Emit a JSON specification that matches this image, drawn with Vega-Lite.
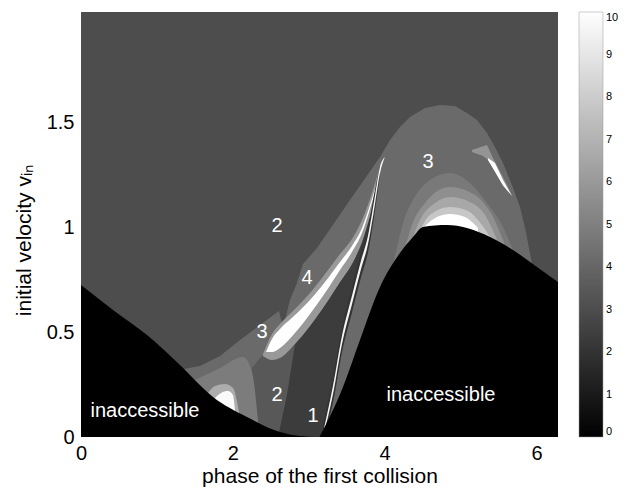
{
  "$schema": "https://vega.github.io/schema/vega-lite/v6.json",
  "autosize": {"type": "none"},
  "padding": {"left": 81, "top": 12, "right": 73, "bottom": 54},
  "width": 477,
  "height": 425,
  "background": "white",
  "config": {"view": {"stroke": null}, "font": "Liberation Sans", "axis": {"labelColor": "black", "titleColor": "black", "titleFontWeight": "normal"}},
  "datasets": {
    "bg": [{"x": 0, "x2": 6.2832, "y": 0, "y2": 2.03, "v": 3.0}],
    "L": [
      {"x": 1.3567, "y": 0.3248, "v": 4.15}, {"x": 1.5674, "y": 0.3391, "v": 4.15}, {"x": 1.8309, "y": 0.3869, "v": 4.15},
      {"x": 2.0943, "y": 0.4633, "v": 4.15}, {"x": 2.3577, "y": 0.535, "v": 4.15}, {"x": 2.608, "y": 0.6018, "v": 4.15},
      {"x": 2.6607, "y": 0.5206, "v": 4.15}, {"x": 2.7529, "y": 0.6544, "v": 4.15}, {"x": 2.8451, "y": 0.7356, "v": 4.15},
      {"x": 2.9241, "y": 0.8263, "v": 4.15}, {"x": 3.1085, "y": 0.9027, "v": 4.15}, {"x": 3.5432, "y": 1.132, "v": 4.15},
      {"x": 3.9384, "y": 1.3374, "v": 4.15}, {"x": 4.0701, "y": 1.4186, "v": 4.15}, {"x": 4.2018, "y": 1.4807, "v": 4.15},
      {"x": 4.3335, "y": 1.5285, "v": 4.15}, {"x": 4.5311, "y": 1.5714, "v": 4.15}, {"x": 4.7287, "y": 1.5858, "v": 4.15},
      {"x": 4.9262, "y": 1.581, "v": 4.15}, {"x": 5.0843, "y": 1.5476, "v": 4.15}, {"x": 5.216, "y": 1.5141, "v": 4.15},
      {"x": 5.3477, "y": 1.452, "v": 4.15}, {"x": 5.4531, "y": 1.3852, "v": 4.15}, {"x": 5.5585, "y": 1.3087, "v": 4.15},
      {"x": 5.677, "y": 1.2036, "v": 4.15}, {"x": 5.7824, "y": 1.0986, "v": 4.15}, {"x": 5.8615, "y": 0.9792, "v": 4.15},
      {"x": 5.9405, "y": 0.8263, "v": 4.15}
    ],
    "r2": [
      {"x": 2.147, "y": 0.1003, "v": 3.45}, {"x": 2.1997, "y": 0.2484, "v": 3.45}, {"x": 2.2524, "y": 0.3296, "v": 3.45},
      {"x": 2.3577, "y": 0.3773, "v": 3.45}, {"x": 2.4368, "y": 0.406, "v": 3.45}, {"x": 2.6212, "y": 0.4394, "v": 3.45},
      {"x": 2.8187, "y": 0.4729, "v": 3.45}, {"x": 2.9505, "y": 0.4872, "v": 3.45}
    ],
    "band": [
      {"x": 1.5016, "y": 0.2723, "v": 4.85}, {"x": 1.8309, "y": 0.3296, "v": 4.85}, {"x": 2.1338, "y": 0.3821, "v": 4.85},
      {"x": 2.2524, "y": 0.3105, "v": 4.85}, {"x": 2.3314, "y": 0.0812, "v": 4.85}
    ],
    "hot1": [
      {"x": 1.6728, "y": 0.2102, "v": 6.8}, {"x": 1.765, "y": 0.2436, "v": 6.8}, {"x": 1.8967, "y": 0.2532, "v": 6.8},
      {"x": 2.0021, "y": 0.234, "v": 6.8}, {"x": 2.0811, "y": 0.1194, "v": 6.8}
    ],
    "hot2": [
      {"x": 1.765, "y": 0.1863, "v": 9.8}, {"x": 1.8441, "y": 0.2102, "v": 9.8}, {"x": 1.9363, "y": 0.2197, "v": 9.8},
      {"x": 2.0021, "y": 0.2006, "v": 9.8}, {"x": 2.0284, "y": 0.129, "v": 9.8}
    ],
    "a1": [
      {"x": 4.0964, "y": 0.8072, "v": 4.75}, {"x": 4.1623, "y": 0.9075, "v": 4.75}, {"x": 4.2413, "y": 1.0222, "v": 4.75},
      {"x": 4.373, "y": 1.132, "v": 4.75}, {"x": 4.597, "y": 1.2275, "v": 4.75}, {"x": 4.8604, "y": 1.261, "v": 4.75},
      {"x": 5.1238, "y": 1.2132, "v": 4.75}, {"x": 5.3477, "y": 1.1177, "v": 4.75}, {"x": 5.5585, "y": 1.0031, "v": 4.75},
      {"x": 5.6902, "y": 0.8932, "v": 4.75}
    ],
    "a2": [
      {"x": 4.2676, "y": 0.9027, "v": 5.6}, {"x": 4.3598, "y": 1.0126, "v": 5.6}, {"x": 4.5311, "y": 1.1177, "v": 5.6},
      {"x": 4.8604, "y": 1.1941, "v": 5.6}, {"x": 5.1897, "y": 1.1559, "v": 5.6}, {"x": 5.4136, "y": 1.0604, "v": 5.6},
      {"x": 5.5848, "y": 0.9171, "v": 5.6}
    ],
    "a3": [
      {"x": 4.373, "y": 0.9553, "v": 6.6}, {"x": 4.4652, "y": 1.0365, "v": 6.6}, {"x": 4.6628, "y": 1.1177, "v": 6.6},
      {"x": 4.8604, "y": 1.1463, "v": 6.6}, {"x": 5.1238, "y": 1.1225, "v": 6.6}, {"x": 5.3214, "y": 1.0604, "v": 6.6},
      {"x": 5.4795, "y": 0.941, "v": 6.6}
    ],
    "a4": [
      {"x": 4.4652, "y": 0.9887, "v": 7.8}, {"x": 4.597, "y": 1.0604, "v": 7.8}, {"x": 4.8604, "y": 1.0986, "v": 7.8},
      {"x": 5.0975, "y": 1.0795, "v": 7.8}, {"x": 5.2819, "y": 1.0126, "v": 7.8}, {"x": 5.3873, "y": 0.9553, "v": 7.8}
    ],
    "a5": [
      {"x": 4.5311, "y": 1.0078, "v": 10}, {"x": 4.6892, "y": 1.0508, "v": 10}, {"x": 4.8604, "y": 1.0651, "v": 10},
      {"x": 5.058, "y": 1.0508, "v": 10}, {"x": 5.2292, "y": 0.9983, "v": 10}
    ],
    "w1": [
      {"x": 5.1502, "y": 1.3708, "y2": 1.3613, "v": 5.8}, {"x": 5.295, "y": 1.3885, "y2": 1.3422, "v": 5.8},
      {"x": 5.3477, "y": 1.3947, "y2": 1.3279, "v": 5.8}, {"x": 5.3873, "y": 1.3637, "y2": 1.3087, "v": 5.8},
      {"x": 5.4268, "y": 1.3326, "y2": 1.2844, "v": 5.8}, {"x": 5.519, "y": 1.269, "y2": 1.2275, "v": 5.8},
      {"x": 5.5585, "y": 1.2419, "y2": 1.2089, "v": 5.8}, {"x": 5.6902, "y": 1.1463, "y2": 1.1463, "v": 5.8}
    ],
    "w2": [
      {"x": 5.3609, "y": 1.3326, "y2": 1.3231, "v": 10}, {"x": 5.4531, "y": 1.3087, "y2": 1.267, "v": 10},
      {"x": 5.5585, "y": 1.2275, "y2": 1.2018, "v": 10}, {"x": 5.677, "y": 1.1511, "y2": 1.1511, "v": 10}
    ],
    "r1": [
      {"x": 2.5949, "y": 0, "y2": 0, "v": 2.35}, {"x": 2.7134, "y": 0.2006, "y2": 0, "v": 2.35},
      {"x": 2.8187, "y": 0.4442, "y2": 0, "v": 2.35}, {"x": 3.0163, "y": 0.5302, "y2": 0, "v": 2.35},
      {"x": 3.1876, "y": 0.6162, "y2": 0, "v": 2.35}, {"x": 3.3193, "y": 0.6878, "y2": 0.2245, "v": 2.35},
      {"x": 3.4378, "y": 0.7547, "y2": 0.4633, "v": 2.35}, {"x": 3.5695, "y": 0.8263, "y2": 0.6544, "v": 2.35},
      {"x": 3.6881, "y": 0.9218, "y2": 0.8216, "v": 2.35}, {"x": 3.7803, "y": 1.0246, "y2": 0.941, "v": 2.35},
      {"x": 3.8725, "y": 1.1463, "y2": 1.132, "v": 2.35}, {"x": 3.9384, "y": 1.2753, "y2": 1.2753, "v": 2.35}
    ],
    "halo": [
      {"x": 2.3973, "y": 0.3964, "y2": 0.3869, "v": 6.0}, {"x": 2.5158, "y": 0.492, "y2": 0.3678, "v": 6.0},
      {"x": 2.6212, "y": 0.5397, "y2": 0.3773, "v": 6.0}, {"x": 2.8187, "y": 0.6114, "y2": 0.4442, "v": 6.0},
      {"x": 3.0163, "y": 0.6878, "y2": 0.5302, "v": 6.0}, {"x": 3.2139, "y": 0.7786, "y2": 0.6305, "v": 6.0},
      {"x": 3.4115, "y": 0.8741, "y2": 0.7404, "v": 6.0}, {"x": 3.5695, "y": 0.9457, "y2": 0.8263, "v": 6.0},
      {"x": 3.7013, "y": 1.0365, "y2": 0.9314, "v": 6.0}, {"x": 3.8066, "y": 1.1368, "y2": 1.0556, "v": 6.0},
      {"x": 3.8857, "y": 1.2275, "y2": 1.1654, "v": 6.0}, {"x": 3.9515, "y": 1.3087, "y2": 1.2849, "v": 6.0}
    ],
    "cres": [
      {"x": 2.4368, "y": 0.406, "y2": 0.406, "v": 10}, {"x": 2.5158, "y": 0.4681, "y2": 0.406, "v": 10},
      {"x": 2.6212, "y": 0.5159, "y2": 0.4251, "v": 10}, {"x": 2.8187, "y": 0.5827, "y2": 0.4967, "v": 10},
      {"x": 3.0163, "y": 0.6544, "y2": 0.5875, "v": 10}, {"x": 3.2139, "y": 0.7404, "y2": 0.6878, "v": 10},
      {"x": 3.4115, "y": 0.8359, "y2": 0.7977, "v": 10}, {"x": 3.5695, "y": 0.9123, "y2": 0.8837, "v": 10},
      {"x": 3.7013, "y": 0.9983, "y2": 0.9744, "v": 10}, {"x": 3.8066, "y": 1.1081, "y2": 1.089, "v": 10},
      {"x": 3.8857, "y": 1.2036, "y2": 1.1893, "v": 10}, {"x": 3.9515, "y": 1.2992, "y2": 1.2944, "v": 10}
    ],
    "streakDark": [
      {"x": 3.1876, "y": 0.06, "y2": 0, "v": 2.0}, {"x": 3.3193, "y": 0.2845, "y2": 0.1645, "v": 2.0},
      {"x": 3.4378, "y": 0.5233, "y2": 0.4033, "v": 2.0}, {"x": 3.5695, "y": 0.7144, "y2": 0.5944, "v": 2.0},
      {"x": 3.6881, "y": 0.8816, "y2": 0.7616, "v": 2.0}, {"x": 3.7803, "y": 1.001, "y2": 0.881, "v": 2.0},
      {"x": 3.8725, "y": 1.182, "y2": 1.082, "v": 2.0}, {"x": 3.9384, "y": 1.2953, "y2": 1.2553, "v": 2.0}
    ],
    "streak": [
      {"x": 3.1876, "y": 0.02, "y2": 0, "v": 9.6}, {"x": 3.3193, "y": 0.2445, "y2": 0.2045, "v": 9.6},
      {"x": 3.4378, "y": 0.4833, "y2": 0.4433, "v": 9.6}, {"x": 3.5695, "y": 0.6744, "y2": 0.6344, "v": 9.6},
      {"x": 3.6881, "y": 0.8416, "y2": 0.8016, "v": 9.6}, {"x": 3.7803, "y": 0.961, "y2": 0.921, "v": 9.6},
      {"x": 3.8725, "y": 1.152, "y2": 1.112, "v": 9.6}, {"x": 3.9384, "y": 1.2903, "y2": 1.2603, "v": 9.6},
      {"x": 4.0042, "y": 1.3374, "y2": 1.3374, "v": 9.6}
    ],
    "blackL": [
      {"x": 0, "y": 0.726, "v": 0}, {"x": 0.4215, "y": 0.607, "v": 0}, {"x": 0.8693, "y": 0.487, "v": 0},
      {"x": 1.304, "y": 0.3439, "v": 0}, {"x": 1.7387, "y": 0.1911, "v": 0}, {"x": 2.1865, "y": 0.0955, "v": 0},
      {"x": 2.6212, "y": 0.0239, "v": 0}, {"x": 2.8846, "y": 0.005, "v": 0}, {"x": 3.1416, "y": 0, "v": 0}
    ],
    "blackR": [
      {"x": 3.1416, "y": 0, "v": 0}, {"x": 3.451, "y": 0.2388, "v": 0}, {"x": 3.6749, "y": 0.4633, "v": 0},
      {"x": 3.9384, "y": 0.7165, "v": 0}, {"x": 4.2018, "y": 0.8789, "v": 0}, {"x": 4.373, "y": 0.9553, "v": 0},
      {"x": 4.5047, "y": 1.0031, "v": 0}, {"x": 4.8209, "y": 1.0126, "v": 0}, {"x": 5.0843, "y": 0.9983, "v": 0},
      {"x": 5.3873, "y": 0.9553, "v": 0}, {"x": 5.6902, "y": 0.8932, "v": 0}, {"x": 6.0063, "y": 0.812, "v": 0},
      {"x": 6.2832, "y": 0.7404, "v": 0}
    ],
    "labels": [
      {"x": 0.843, "y": 0.124, "label": "inaccessible"},
      {"x": 4.742, "y": 0.2006, "label": "inaccessible"},
      {"x": 2.5817, "y": 1.0078, "label": "2"},
      {"x": 4.5705, "y": 1.3135, "label": "3"},
      {"x": 2.977, "y": 0.7594, "label": "4"},
      {"x": 2.384, "y": 0.5015, "label": "3"},
      {"x": 2.5817, "y": 0.2006, "label": "2"},
      {"x": 3.0558, "y": 0.1003, "label": "1"}
    ]
  },
  "encoding": {
    "x": {"field": "x", "type": "quantitative", "scale": {"domain": [0, 6.2832], "nice": false, "zero": false},
      "axis": {"values": [0, 2, 4, 6], "title": "phase of the first collision", "labelFontSize": 20, "titleFontSize": 21, "ticks": false, "domain": false, "grid": false, "labelPadding": 6, "titlePadding": 2, "labelFlush": false}},
    "y": {"field": "y", "type": "quantitative", "stack": null, "scale": {"domain": [0, 2.03], "nice": false, "zero": false},
      "axis": {"values": [0, 0.5, 1, 1.5], "format": "~g", "title": "initial velocity vᵢₙ", "labelFontSize": 20, "titleFontSize": 21, "ticks": false, "domain": false, "grid": false, "labelPadding": 7, "titlePadding": 12, "titleY": 228, "labelFlush": false}}
  },
  "layer": [
    {"data": {"name": "bg"}, "mark": {"type": "rect"},
      "encoding": {"x2": {"field": "x2"}, "y2": {"field": "y2"},
        "color": {"field": "v", "type": "quantitative", "scale": {"domain": [0, 10], "range": ["#000000", "#ffffff"], "interpolate": "rgb"},
          "legend": {"type": "gradient", "title": null, "orient": "none", "legendX": 498, "legendY": 0, "direction": "vertical", "gradientLength": 425, "gradientThickness": 24, "values": [0, 1, 2, 3, 4, 5, 6, 7, 8, 9, 10], "labelFontSize": 11, "labelOverlap": false, "gradientStrokeColor": "#999999", "gradientStrokeWidth": 0.5, "labelOffset": 3}}}},
    {"data": {"name": "L"}, "mark": {"type": "area", "interpolate": "linear"}, "encoding": {"color": {"field": "v", "type": "quantitative", "legend": null}}},
    {"data": {"name": "r2"}, "mark": {"type": "area", "interpolate": "linear"}, "encoding": {"color": {"field": "v", "type": "quantitative", "legend": null}}},
    {"data": {"name": "band"}, "mark": {"type": "area", "interpolate": "monotone"}, "encoding": {"color": {"field": "v", "type": "quantitative", "legend": null}}},
    {"data": {"name": "hot1"}, "mark": {"type": "area", "interpolate": "monotone"}, "encoding": {"color": {"field": "v", "type": "quantitative", "legend": null}}},
    {"data": {"name": "hot2"}, "mark": {"type": "area", "interpolate": "monotone"}, "encoding": {"color": {"field": "v", "type": "quantitative", "legend": null}}},
    {"data": {"name": "a1"}, "mark": {"type": "area", "interpolate": "monotone"}, "encoding": {"color": {"field": "v", "type": "quantitative", "legend": null}}},
    {"data": {"name": "a2"}, "mark": {"type": "area", "interpolate": "monotone"}, "encoding": {"color": {"field": "v", "type": "quantitative", "legend": null}}},
    {"data": {"name": "a3"}, "mark": {"type": "area", "interpolate": "monotone"}, "encoding": {"color": {"field": "v", "type": "quantitative", "legend": null}}},
    {"data": {"name": "a4"}, "mark": {"type": "area", "interpolate": "monotone"}, "encoding": {"color": {"field": "v", "type": "quantitative", "legend": null}}},
    {"data": {"name": "a5"}, "mark": {"type": "area", "interpolate": "monotone"}, "encoding": {"color": {"field": "v", "type": "quantitative", "legend": null}}},
    {"data": {"name": "w1"}, "mark": {"type": "area", "interpolate": "linear"}, "encoding": {"y2": {"field": "y2"}, "color": {"field": "v", "type": "quantitative", "legend": null}}},
    {"data": {"name": "w2"}, "mark": {"type": "area", "interpolate": "linear"}, "encoding": {"y2": {"field": "y2"}, "color": {"field": "v", "type": "quantitative", "legend": null}}},
    {"data": {"name": "r1"}, "mark": {"type": "area", "interpolate": "linear"}, "encoding": {"y2": {"field": "y2"}, "color": {"field": "v", "type": "quantitative", "legend": null}}},
    {"data": {"name": "halo"}, "mark": {"type": "area", "interpolate": "monotone"}, "encoding": {"y2": {"field": "y2"}, "color": {"field": "v", "type": "quantitative", "legend": null}}},
    {"data": {"name": "cres"}, "mark": {"type": "area", "interpolate": "monotone"}, "encoding": {"y2": {"field": "y2"}, "color": {"field": "v", "type": "quantitative", "legend": null}}},
    {"data": {"name": "streakDark"}, "mark": {"type": "area", "interpolate": "monotone"}, "encoding": {"y2": {"field": "y2"}, "color": {"field": "v", "type": "quantitative", "legend": null}}},
    {"data": {"name": "streak"}, "mark": {"type": "area", "interpolate": "monotone"}, "encoding": {"y2": {"field": "y2"}, "color": {"field": "v", "type": "quantitative", "legend": null}}},
    {"data": {"name": "blackL"}, "mark": {"type": "area", "interpolate": "monotone"}, "encoding": {"color": {"field": "v", "type": "quantitative", "legend": null}}},
    {"data": {"name": "blackR"}, "mark": {"type": "area", "interpolate": "monotone"}, "encoding": {"color": {"field": "v", "type": "quantitative", "legend": null}}},
    {"data": {"name": "labels"}, "mark": {"type": "text", "color": "white", "fontSize": 20, "font": "Liberation Sans", "align": "center", "baseline": "middle"}, "encoding": {"text": {"field": "label"}}}
  ]
}
